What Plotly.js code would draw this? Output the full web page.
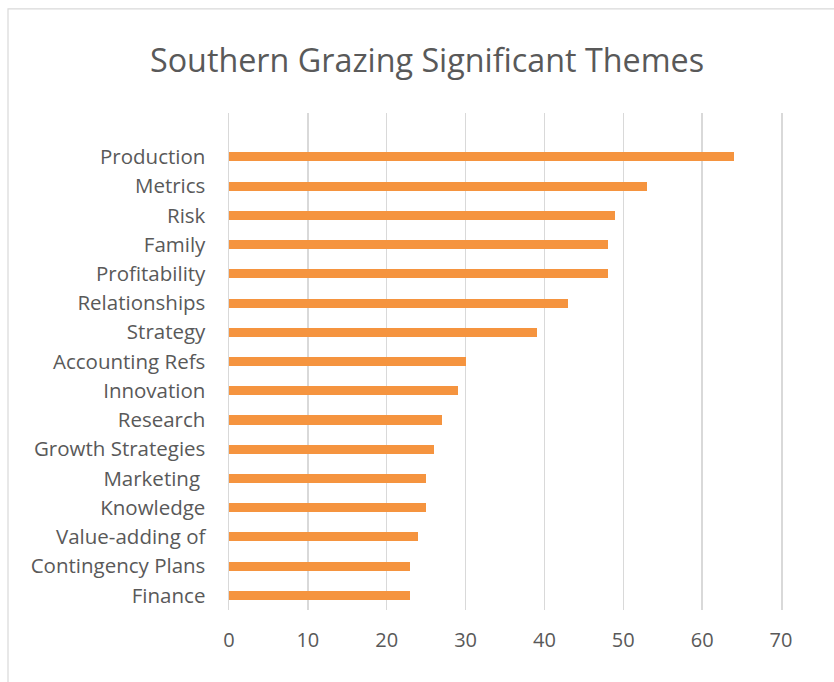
<!DOCTYPE html>
<html>
<head>
<meta charset="utf-8">
<script src="https://cdn.plot.ly/plotly-3.0.1.min.js"></script>
<style>
  html, body { margin: 0; padding: 0; background: #ffffff; }
  #chart { width: 834px; height: 682px; }
</style>
</head>
<body>
<div id="chart"></div>
<script>
// Categories listed top to bottom as in the reference
const themes = [
  "Production", "Metrics", "Risk", "Family", "Profitability", "Relationships",
  "Strategy", "Accounting Refs", "Innovation", "Research", "Growth Strategies",
  "Marketing\u00a0", "Knowledge", "Value-adding of", "Contingency Plans", "Finance"
];
const counts = [64, 53, 49, 48, 48, 43, 39, 30, 29, 27, 26, 25, 25, 24, 23, 23];
const xTicks = [0, 10, 20, 30, 40, 50, 60, 70];

const catsBottomUp = themes.slice().reverse();
const valsBottomUp = counts.slice().reverse();

const textColor = "#595959";
const fontFamily = "'Open Sans', 'Noto Sans', sans-serif";

const trace = {
  type: "bar",
  orientation: "h",
  y: catsBottomUp,
  x: valsBottomUp,
  width: 0.31,
  marker: { color: "#F5943F", line: { width: 0 } },
  hoverinfo: "x+y"
};

// Plot area: x 229..781, y 113..609.6
const L = 229, R = 781, T = 113, B = 609.6;
const pw = R - L, ph = B - T;
const px = v => (v - L) / pw;
const py = v => (B - v) / ph;

const layout = {
  width: 834,
  height: 682,
  margin: { l: L, r: 834 - R, t: T, b: 682 - B, pad: 0 },
  paper_bgcolor: "#ffffff",
  plot_bgcolor: "#ffffff",
  showlegend: false,
  bargap: 0,
  title: {
    text: "Southern Grazing Significant Themes",
    font: { family: fontFamily, size: 32.3, color: textColor },
    x: 0.512, xanchor: "center",
    y: 1 - 61 / 682, yanchor: "middle"
  },
  xaxis: {
    range: [0, 70],
    tickvals: xTicks,
    ticktext: xTicks.map(String),
    showgrid: true,
    gridcolor: "#d9d9d9",
    gridwidth: 1.5,
    zeroline: false,
    showline: false,
    ticks: "",
    ticklabelstandoff: 16,
    tickfont: { family: fontFamily, size: 20, color: textColor },
    fixedrange: true
  },
  yaxis: {
    type: "category",
    categoryorder: "array",
    categoryarray: catsBottomUp,
    range: [-0.5, 16.5],
    showgrid: false,
    zeroline: false,
    showline: true,
    mirror: true,
    linecolor: "#d9d9d9",
    linewidth: 1.5,
    ticks: "",
    ticklabelstandoff: 18,
    tickfont: { family: fontFamily, size: 20.5, color: textColor },
    fixedrange: true
  },
  shapes: [
    {
      type: "rect", xref: "paper", yref: "paper",
      x0: px(8), x1: px(845), y0: py(9), y1: py(700),
      line: { color: "#d9d9d9", width: 1.2 },
      fillcolor: "rgba(0,0,0,0)",
      layer: "below"
    }
  ]
};

Plotly.newPlot("chart", [trace], layout, { displayModeBar: false, staticPlot: true });
</script>
</body>
</html>
